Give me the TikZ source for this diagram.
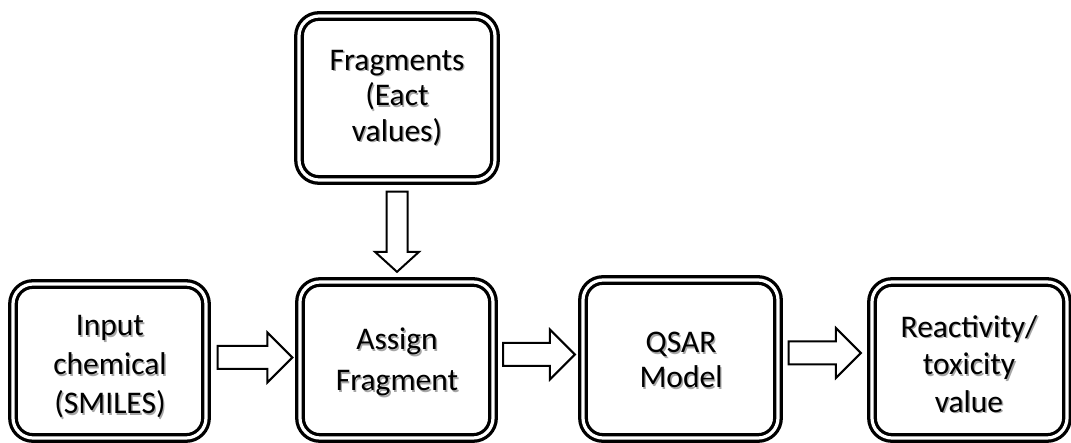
\documentclass[tikz,border=0pt]{standalone}
\usepackage{fontspec}
\setmainfont{Carlito}
\usetikzlibrary{calc}
\begin{document}
\begin{tikzpicture}[x=1pt,y=-1pt,
  stagebox/.style={draw=black, line width=3.3pt, double=white, double distance=3.2pt,
    rounded corners=20pt, rectangle, inner sep=0pt, anchor=center},
  label text/.style={align=center, inner sep=0pt, text=black,
    font=\fontsize{31.5}{39}\selectfont},
  label shadow/.style={label text, text=black!35},
  blockarrow/.style={draw=black, line width=2pt, fill=white, line join=miter}]
\useasboundingbox (0,0) rectangle (1071,443);
\clip (0,0) rectangle (1071,443);

% processing stages (double-framed rounded boxes)
\node[stagebox, minimum width=193pt, minimum height=154pt] (in)  at (109.5,361) {};
\node[stagebox, minimum width=196pt, minimum height=164pt] (fr)  at (397,98) {};
\node[stagebox, minimum width=193pt, minimum height=156pt] (as)  at (396.5,360) {};
\node[stagebox, minimum width=195pt, minimum height=158pt] (qs)  at (680.5,359) {};
\node[stagebox, minimum width=195pt, minimum height=156pt] (re)  at (969.5,360) {};

% stage labels, each with a soft grey drop shadow
\newcommand\stagelabel[4][]{%
  \node[label shadow,#1] (#2s) at ($#3+(1.4,1.4)$) {#4};
  \node[label text,#1]   (#2t) at #3 {#4};}
\stagelabel{in}{(110,367)}{Input\\chemical\\(SMILES)}
\stagelabel[font=\fontsize{31.5}{35.5}\selectfont]{fr}{(397,98)}{Fragments\\(Eact\\values)}
\stagelabel[font=\fontsize{31.5}{41}\selectfont]{as}{(397,362)}{Assign\\Fragment}
\stagelabel[font=\fontsize{31.5}{35}\selectfont]{qs}{(681,360)}{QSAR\\Model}
\stagelabel[font=\fontsize{31.5}{37.5}\selectfont]{re}{(969,364)}{Reactivity/\\toxicity\\value}

% hollow block arrows between the stages
\newcommand\flowarrow[3]{% start, tip, mid-height
  \draw[blockarrow]
    let \p1=#1, \p2=#2 in
    (\x1,#3-11.5) -- (\x2-25,#3-11.5) -- (\x2-25,#3-25) -- (\x2,#3)
    -- (\x2-25,#3+25) -- (\x2-25,#3+11.5) -- (\x1,#3+11.5) -- cycle;}
\flowarrow{($(in.east)+(10,0)$)}{($(as.west)+(-6,0)$)}{357.5}
\flowarrow{($(as.east)+(8.5,0)$)}{($(qs.west)+(-6.5,0)$)}{354.5}
\flowarrow{($(qs.east)+(9,0)$)}{($(re.west)+(-9.5,0)$)}{353}

% downward arrow from the fragment table into the assignment step
% (let-values are canvas lengths, so "up" is a positive offset)
\draw[blockarrow]
  let \p1=($(fr.south)+(0,10)$), \p2=($(as.north)+(0,-8.5)$) in
  (\x1-10.5,\y1) -- (\x1+10.5,\y1) -- (\x1+10.5,\y2+20) -- (\x1+22,\y2+20)
  -- (\x1,\y2) -- (\x1-22,\y2+20) -- (\x1-10.5,\y2+20) -- cycle;
\end{tikzpicture}
\end{document}
